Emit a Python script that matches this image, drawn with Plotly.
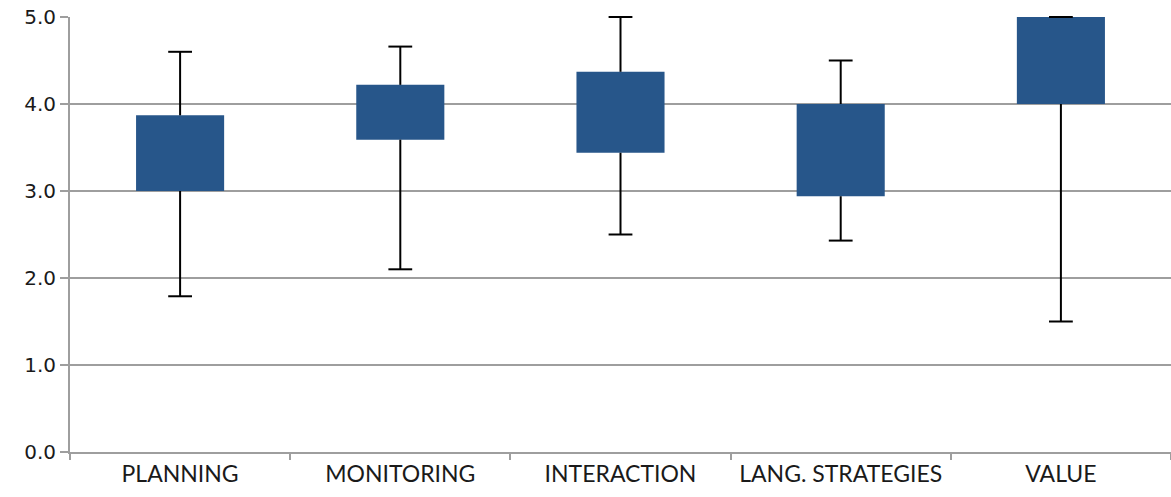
import plotly.graph_objects as go

categories = ["PLANNING", "MONITORING", "INTERACTION", "LANG. STRATEGIES", "VALUE"]
q1 = [3.00, 3.59, 3.44, 2.94, 4.00]
q3 = [3.87, 4.22, 4.37, 4.00, 5.00]
wmin = [1.79, 2.10, 2.50, 2.43, 1.50]
wmax = [4.60, 4.66, 5.00, 4.50, 5.00]
y_ticks = [0, 1, 2, 3, 4, 5]
y_tick_labels = ["0.0", "1.0", "2.0", "3.0", "4.0", "5.0"]

box_color = "#27568A"
grid_color = "#9E9E9E"

fig = go.Figure()

fig.add_trace(go.Bar(
    x=categories,
    y=[b - a for a, b in zip(q1, q3)],
    base=q1,
    width=0.4,
    marker=dict(color=box_color, line=dict(width=0)),
    hoverinfo="skip",
    showlegend=False,
))

# whisker stems
wx, wy = [], []
for c, a, b, lo, hi in zip(categories, q1, q3, wmin, wmax):
    wx += [c, c, None, c, c, None]
    wy += [b, hi, None, a, lo, None]
fig.add_trace(go.Scatter(
    x=wx, y=wy, mode="lines",
    line=dict(color="black", width=2),
    showlegend=False, hoverinfo="skip", cliponaxis=False,
))

# whisker caps
fig.add_trace(go.Scatter(
    x=categories + categories,
    y=wmax + wmin,
    mode="markers",
    marker=dict(symbol="line-ew", size=17, line=dict(color="black", width=2)),
    showlegend=False, hoverinfo="skip", cliponaxis=False,
))

fig.update_layout(
    width=1171, height=497,
    margin=dict(l=70, r=0, t=17, b=45),
    plot_bgcolor="white", paper_bgcolor="white",
    bargap=0.6,
    xaxis=dict(
        type="category", automargin=False,
        showline=True, linecolor=grid_color, linewidth=2,
        ticks="outside", tickson="boundaries", ticklen=6, tickcolor=grid_color, tickwidth=2,
        showgrid=False,
        tickfont=dict(family="Lato", size=23, color="#1a1a1a"),
        range=[-0.5, 4.5],
    ),
    yaxis=dict(
        range=[0, 5], automargin=False,
        tickvals=y_ticks, ticktext=y_tick_labels,
        showline=True, linecolor=grid_color, linewidth=2,
        ticks="outside", ticklen=8, tickcolor=grid_color, tickwidth=2,
        showgrid=True, gridcolor=grid_color, gridwidth=2,
        zeroline=False,
        tickfont=dict(family="DejaVu Sans", size=20, color="#1a1a1a"),
    ),
)

fig.write_html(
    "out.html",
    config={"displayModeBar": False},
    post_script="document.body.style.margin='0';document.body.style.overflow='hidden';",
)
